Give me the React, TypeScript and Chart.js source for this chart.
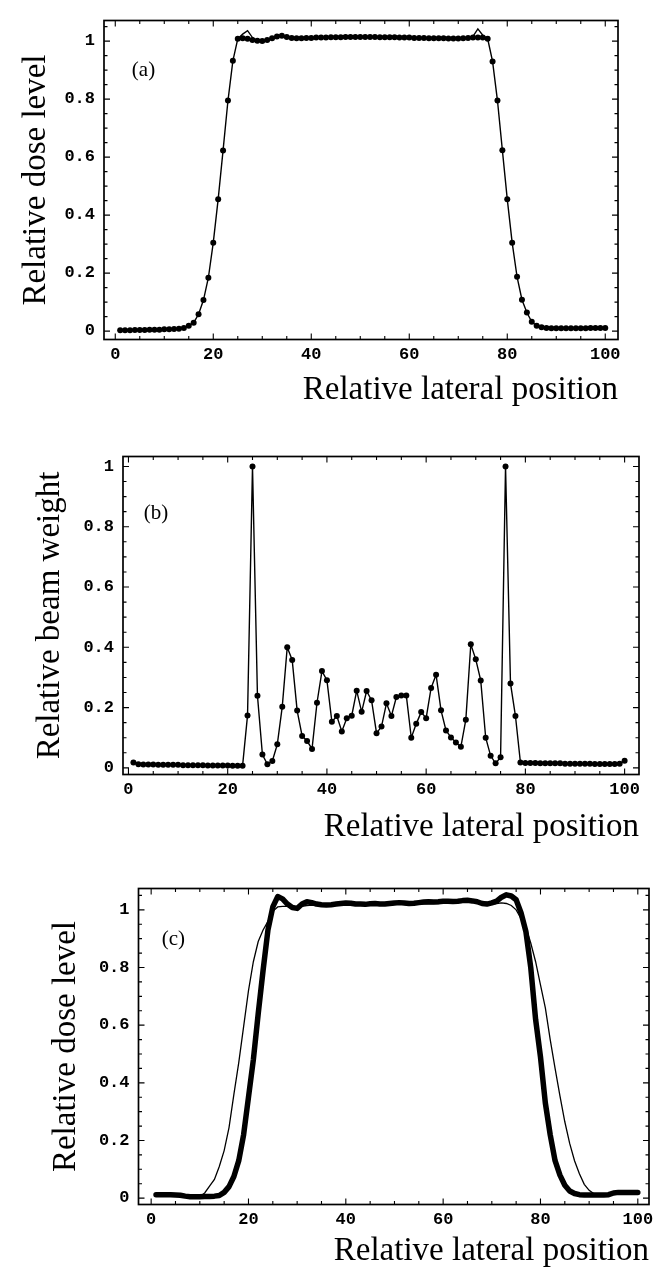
import React, { useEffect, useRef } from "react";
import { Chart, registerables } from "chart.js";

Chart.register(...registerables);

// ---------- tick values / labels ----------
const xTickValues = [0, 20, 40, 60, 80, 100];
const xTickLabels = ["0", "20", "40", "60", "80", "100"];
const yTickValues = [0, 0.2, 0.4, 0.6, 0.8, 1];
const yTickLabels = ["0", "0.2", "0.4", "0.6", "0.8", "1"];

const xTitle = "Relative lateral position";
const yTitleA = "Relative dose level";
const yTitleB = "Relative beam weight";
const yTitleC = "Relative dose level";

// ---------- panel (a): dose samples (dots) ----------
const doseA = [
  0.003, 0.003, 0.003, 0.004, 0.004, 0.004, 0.005, 0.005, 0.005, 0.006,
  0.006, 0.007, 0.008, 0.011, 0.018, 0.029, 0.058, 0.107, 0.184, 0.305,
  0.455, 0.623, 0.795, 0.932, 1.008, 1.010, 1.008, 1.004, 1.001, 1.000,
  1.004, 1.010, 1.016, 1.018, 1.014, 1.011, 1.010, 1.010, 1.011, 1.011,
  1.012, 1.012, 1.012, 1.013, 1.013, 1.013, 1.014, 1.014, 1.014, 1.014,
  1.014, 1.014, 1.014, 1.013, 1.013, 1.013, 1.013, 1.012, 1.012, 1.012,
  1.011, 1.011, 1.011, 1.010, 1.010, 1.010, 1.010, 1.009, 1.009, 1.009,
  1.010, 1.011, 1.012, 1.012, 1.012, 1.008, 0.930, 0.795, 0.624, 0.455,
  0.305, 0.187, 0.108, 0.064, 0.032, 0.018, 0.013, 0.011, 0.010, 0.010,
  0.010, 0.010, 0.010, 0.010, 0.010, 0.010, 0.011, 0.011, 0.011, 0.011,
];
// thin profile line of (a): same as the dots except the two edge overshoots
const doseAOvershootX = [26, 27, 28, 73, 74, 75];
const doseAOvershootY = [1.024, 1.036, 1.012, 1.016, 1.042, 1.02];

// ---------- panel (b): beam weights ----------
const weightB = [
  0.018, 0.012, 0.011, 0.011, 0.011, 0.010, 0.010, 0.010, 0.010, 0.010,
  0.009, 0.009, 0.009, 0.009, 0.009, 0.008, 0.008, 0.008, 0.008, 0.008,
  0.007, 0.007, 0.007, 0.174, 1.000, 0.239, 0.044, 0.012, 0.023, 0.078,
  0.203, 0.400, 0.358, 0.190, 0.106, 0.089, 0.063, 0.216, 0.321, 0.291,
  0.153, 0.172, 0.121, 0.165, 0.173, 0.256, 0.186, 0.255, 0.224, 0.115,
  0.137, 0.214, 0.172, 0.235, 0.240, 0.240, 0.100, 0.146, 0.185, 0.165,
  0.265, 0.309, 0.191, 0.124, 0.101, 0.084, 0.070, 0.160, 0.410, 0.360,
  0.290, 0.100, 0.040, 0.015, 0.035, 1.000, 0.280, 0.172, 0.018, 0.016,
  0.016, 0.016, 0.015, 0.015, 0.015, 0.015, 0.015, 0.014, 0.014, 0.014,
  0.014, 0.014, 0.014, 0.013, 0.013, 0.013, 0.013, 0.013, 0.014, 0.024,
];

// ---------- panel (c): optimized dose (thick) and original dose (thin) ----------
const doseCThick = [
  0.012, 0.012, 0.012, 0.012, 0.011, 0.010, 0.007, 0.005, 0.005, 0.005,
  0.006, 0.006, 0.007, 0.009, 0.020, 0.040, 0.075, 0.130, 0.220, 0.350,
  0.480, 0.640, 0.790, 0.930, 1.010, 1.046, 1.038, 1.020, 1.008, 1.005,
  1.020, 1.028, 1.025, 1.020, 1.018, 1.017, 1.018, 1.020, 1.022, 1.024,
  1.023, 1.020, 1.020, 1.019, 1.021, 1.022, 1.020, 1.020, 1.022, 1.024,
  1.025, 1.024, 1.022, 1.023, 1.025, 1.027, 1.028, 1.027, 1.028, 1.030,
  1.030, 1.029, 1.030, 1.032, 1.033, 1.031, 1.028, 1.022, 1.020, 1.024,
  1.030, 1.044, 1.052, 1.048, 1.035, 0.990, 0.925, 0.800, 0.620, 0.490,
  0.330, 0.220, 0.130, 0.080, 0.045, 0.025, 0.016, 0.012, 0.011, 0.011,
  0.011, 0.011, 0.011, 0.012, 0.018, 0.020, 0.020, 0.020, 0.020, 0.020,
];
const doseCThin = [
  0.012, 0.012, 0.012, 0.012, 0.011, 0.010, 0.007, 0.005, 0.005, 0.006,
  0.018, 0.042, 0.065, 0.110, 0.165, 0.245, 0.360, 0.470, 0.595, 0.720,
  0.820, 0.890, 0.930, 0.960, 0.995, 1.010, 1.012, 1.012, 1.010, 1.010,
  1.012, 1.015, 1.016, 1.015, 1.014, 1.014, 1.015, 1.016, 1.017, 1.018,
  1.018, 1.016, 1.016, 1.015, 1.016, 1.017, 1.016, 1.016, 1.017, 1.019,
  1.020, 1.019, 1.018, 1.018, 1.020, 1.021, 1.022, 1.022, 1.022, 1.024,
  1.024, 1.024, 1.025, 1.026, 1.027, 1.026, 1.024, 1.019, 1.017, 1.019,
  1.022, 1.024, 1.022, 1.015, 1.000, 0.970, 0.940, 0.885, 0.820, 0.740,
  0.660, 0.550, 0.450, 0.355, 0.265, 0.190, 0.130, 0.085, 0.048, 0.027,
  0.015, 0.012, 0.011, 0.012, 0.018, 0.020, 0.020, 0.020, 0.020, 0.020,
];

const lateralPositions = doseA.map((_, i) => i + 1);

const toPoints = (vals: number[]) =>
  vals.map((y, i) => ({ x: lateralPositions[i], y }));

const doseALine = doseA.map((y, i) => {
  const k = doseAOvershootX.indexOf(lateralPositions[i]);
  return k >= 0 ? doseAOvershootY[k] : y;
});

const tickFont = {
  family: "'Liberation Mono', 'DejaVu Sans Mono', monospace",
  size: 17,
  weight: "bold" as const,
};
const titleFont = {
  family: "'Liberation Serif', 'Times New Roman', serif",
  size: 33,
};

const CANVAS_W = 654;

type PanelProps = {
  height: number;
  padTop: number;
  padRight: number;
  yAxisWidth: number;
  xAxisHeight: number;
  yTitlePad: number;
  xTitlePad: number;
  xMin: number;
  xMax: number;
  yMin: number;
  yMax: number;
  yTitle: string;
  label: string;
  labelX: number;
  labelY: number;
  datasets: any[];
};

function Panel(p: PanelProps) {
  const ref = useRef<HTMLCanvasElement>(null);
  useEffect(() => {
    const canvas = ref.current;
    if (!canvas) return;
    const framePlugin = {
      id: "frameTicks",
      afterDraw(chart: any) {
        const { ctx, chartArea: a, scales } = chart;
        const xs = scales.x;
        const ys = scales.y;
        ctx.save();
        ctx.strokeStyle = "#000";
        ctx.lineWidth = 1.7;
        ctx.strokeRect(a.left, a.top, a.right - a.left, a.bottom - a.top);
        ctx.lineWidth = 1.1;
        ctx.beginPath();
        for (let v = 0; v <= p.xMax; v += 5) {
          const px = xs.getPixelForValue(v);
          const len = v % 20 === 0 ? 6 : 3.5;
          ctx.moveTo(px, a.bottom);
          ctx.lineTo(px, a.bottom - len);
          ctx.moveTo(px, a.top);
          ctx.lineTo(px, a.top + len);
        }
        for (let k = 0; k * 0.05 <= p.yMax; k++) {
          const py = ys.getPixelForValue(k * 0.05);
          const len = k % 4 === 0 ? 6 : 3.5;
          ctx.moveTo(a.left, py);
          ctx.lineTo(a.left + len, py);
          ctx.moveTo(a.right, py);
          ctx.lineTo(a.right - len, py);
        }
        ctx.stroke();
        ctx.fillStyle = "#000";
        ctx.font = "21px 'Liberation Serif', 'Times New Roman', serif";
        ctx.textAlign = "center";
        ctx.textBaseline = "middle";
        ctx.fillText(p.label, p.labelX, p.labelY);
        ctx.restore();
      },
    };

    const chart = new Chart(canvas, {
      type: "line",
      data: { datasets: p.datasets },
      plugins: [framePlugin],
      options: {
        responsive: false,
        animation: false,
        events: [],
        layout: { padding: { left: 0, right: p.padRight, top: p.padTop, bottom: 0 } },
        plugins: { legend: { display: false }, tooltip: { enabled: false } },
        elements: { line: { tension: 0 } },
        scales: {
          x: {
            type: "linear",
            min: p.xMin,
            max: p.xMax,
            grid: { display: false, drawTicks: false },
            border: { display: false },
            afterBuildTicks: (s: any) => {
              s.ticks = xTickValues.map((v) => ({ value: v }));
            },
            afterFit: (s: any) => {
              s.height = p.xAxisHeight;
              s.paddingLeft = 0;
              s.paddingRight = 0;
            },
            ticks: {
              autoSkip: false,
              maxRotation: 0,
              padding: 5,
              color: "#000",
              font: tickFont,
              callback: (_v: any, i: number) => xTickLabels[i],
            },
            title: {
              display: true,
              text: xTitle,
              align: "end",
              color: "#000",
              font: titleFont,
              padding: { top: 0, bottom: p.xTitlePad },
            },
          },
          y: {
            type: "linear",
            min: p.yMin,
            max: p.yMax,
            grid: { display: false, drawTicks: false },
            border: { display: false },
            afterBuildTicks: (s: any) => {
              s.ticks = yTickValues.map((v) => ({ value: v }));
            },
            afterFit: (s: any) => {
              s.width = p.yAxisWidth;
              s.paddingTop = 0;
              s.paddingBottom = 0;
            },
            ticks: {
              autoSkip: false,
              padding: 9,
              color: "#000",
              font: tickFont,
              callback: (_v: any, i: number) => yTickLabels[i],
            },
            title: {
              display: true,
              text: p.yTitle,
              color: "#000",
              font: titleFont,
              padding: { top: p.yTitlePad, bottom: 0 },
            },
          },
        },
      } as any,
    });
    return () => chart.destroy();
  }, []);
  return (
    <canvas
      ref={ref}
      width={CANVAS_W}
      height={p.height}
      style={{ display: "block", width: CANVAS_W, height: p.height }}
    />
  );
}

const dotStyle = {
  pointRadius: 3,
  pointBackgroundColor: "#000",
  pointBorderColor: "#000",
  pointBorderWidth: 0,
};

export default function App() {
  const datasetsA = [
    { data: toPoints(doseA), showLine: false, borderColor: "#000", ...dotStyle },
    { data: toPoints(doseALine), borderColor: "#000", borderWidth: 1.4, pointRadius: 0 },
  ];
  const datasetsB = [
    { data: toPoints(weightB), borderColor: "#000", borderWidth: 1.4, ...dotStyle },
  ];
  const datasetsC = [
    {
      data: toPoints(doseCThick),
      borderColor: "#000",
      borderWidth: 5.5,
      pointRadius: 0,
      borderJoinStyle: "round",
      borderCapStyle: "round",
    },
    { data: toPoints(doseCThin), borderColor: "#000", borderWidth: 1.3, pointRadius: 0 },
  ];
  return (
    <div
      style={{
        position: "absolute",
        left: 0,
        top: 0,
        width: CANVAS_W,
        height: 1282,
        overflow: "hidden",
        background: "#fff",
      }}
    >
      <Panel
        height={428}
        padTop={20.5}
        padRight={36}
        yAxisWidth={104}
        xAxisHeight={88.5}
        yTitlePad={16.2}
        xTitlePad={17.7}
        xMin={-2.3}
        xMax={102.6}
        yMin={-0.029}
        yMax={1.071}
        yTitle={yTitleA}
        label="(a)"
        labelX={143.5}
        labelY={70.5}
        datasets={datasetsA}
      />
      <Panel
        height={430}
        padTop={28.5}
        padRight={15}
        yAxisWidth={123}
        xAxisHeight={83.5}
        yTitlePad={30.2}
        xTitlePad={10.7}
        xMin={-1.1}
        xMax={102.9}
        yMin={-0.022}
        yMax={1.033}
        yTitle={yTitleB}
        label="(b)"
        labelX={156}
        labelY={85}
        datasets={datasetsB}
      />
      <Panel
        height={424}
        padTop={30.5}
        padRight={5}
        yAxisWidth={138.5}
        xAxisHeight={77.5}
        yTitlePad={46.2}
        xTitlePad={10.7}
        xMin={-2.6}
        xMax={102.3}
        yMin={-0.022}
        yMax={1.074}
        yTitle={yTitleC}
        label="(c)"
        labelX={173.4}
        labelY={81.4}
        datasets={datasetsC}
      />
    </div>
  );
}
